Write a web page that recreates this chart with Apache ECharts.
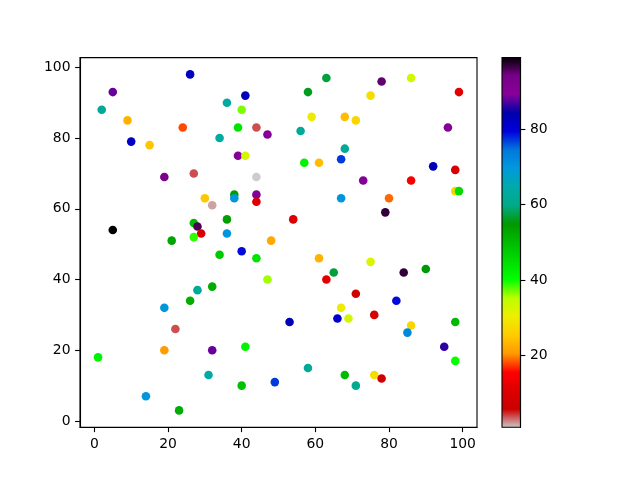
<!DOCTYPE html>
<html>
<head>
<meta charset="utf-8">
<script src="https://cdn.jsdelivr.net/npm/echarts@6/dist/echarts.min.js"></script>
<style>html,body{margin:0;padding:0;background:#fff}#c{width:640px;height:480px}</style>
</head>
<body>
<div id="c"></div>
<script>
const xs = [26,5,2,9,24,10,15,19,27,34,63,58,41,36,40,59,68,39,44,47,56,39,41,44,68,57,61,67,78,86,99,75,71,96,92,98,73,86,30,32,5,27,28,29,27,21,34,32,28,26,38,38,44,44,36,54,36,67,48,40,44,61,65,63,47,98,99,80,79,75,84,90,71,82,19,22,19,32,1,31,14,23,67,53,66,69,41,58,40,49,68,76,86,85,98,95,98,76,78,71];
const ys = [98,93,88,85,83,79,78,69,70,80,97,93,92,90,88,86,86,83,83,81,82,75,75,69,77,73,73,74,96,97,93,92,85,83,72,71,68,68,63,61,54,56,55,53,52,51,47,38,37,34,64,63,64,62,57,57,53,63,51,48,46,46,42,40,40,65,65,63,59,45,42,43,36,34,32,26,20,20,18,13,7,3,32,28,29,29,21,15,10,11,13,30,27,25,28,21,17,13,12,10];
const cs = [82,88,62,23,18,82,25,93,4,63,57,56,83,63,37,30,24,44,4,90,62,90,33,1,62,42,24,77,95,33,12,28,27,90,83,10,90,14,25,2,99,50,96,10,39,53,48,52,62,52,54,70,90,11,54,10,70,70,22,79,44,23,57,12,36,27,45,19,97,32,97,55,8,79,70,4,21,88,42,64,70,52,30,83,81,33,42,62,49,77,50,9,27,72,50,86,40,28,7,61];
const xTicks = [0,20,40,60,80,100];
const yTicks = [0,20,40,60,80,100];
const cTicks = [20,40,60,80];
// nipy_spectral colormap stops (t = 0 .. 1 step 0.05)
const nipy = ['#000000','#770088','#880099','#0000aa','#0000dd','#0077dd','#0099dd','#00aaaa','#00aa88','#009900','#00bb00','#00dd00','#00ff00','#bbff00','#eeee00','#ffcc00','#ff9900','#ff0000','#dd0000','#cc0000','#cccccc'];
const cmapR = nipy.slice().reverse(); // nipy_spectral_r: low -> high

const pts = xs.map((x,i)=>[x, ys[i], cs[i]]);
function pad(arr){const mn=Math.min(...arr),mx=Math.max(...arr),r=mx-mn;return [mn-0.05*r,mx+0.05*r];}
const [xmin,xmax]=pad(xs),[ymin,ymax]=pad(ys);
const cmin=Math.min(...cs), cmax=Math.max(...cs);

const font = 'DejaVu Sans';
const lab = {color:'#000', fontSize:13.9, fontFamily:font};
const tick = {show:true, inside:false, length:4.9, lineStyle:{color:'#000', width:1.1}};

const chart = echarts.init(document.getElementById('c'), null, {renderer:'canvas'});
chart.setOption({
  animation:false,
  backgroundColor:'#fff',
  grid:[
    {left:80, top:57.6, width:397, height:369.6, show:true, borderColor:'#000', borderWidth:1.1, backgroundColor:'transparent'},
    {left:502, top:57.6, width:18.5, height:369.6, show:true, borderColor:'#000', borderWidth:1.1,
     backgroundColor: new echarts.graphic.LinearGradient(0,1,0,0, cmapR.map((c,i)=>({offset:i/(cmapR.length-1), color:c})))}
  ],
  xAxis:[
    {gridIndex:0, type:'value', min:xmin, max:xmax, splitLine:{show:false},
     axisLine:{show:true, onZero:false, lineStyle:{color:'#000', width:1.1}},
     axisTick:Object.assign({customValues:xTicks}, tick),
     axisLabel:Object.assign({customValues:xTicks, margin:10}, lab)},
    {gridIndex:1, type:'value', min:0, max:1, show:false}
  ],
  yAxis:[
    {gridIndex:0, type:'value', min:ymin, max:ymax, splitLine:{show:false},
     axisLine:{show:true, onZero:false, lineStyle:{color:'#000', width:1.1}},
     axisTick:Object.assign({customValues:yTicks}, tick),
     axisLabel:Object.assign({customValues:yTicks, margin:9.5}, lab)},
    {gridIndex:1, type:'value', position:'right', min:cmin, max:cmax, splitLine:{show:false},
     axisLine:{show:true, onZero:false, lineStyle:{color:'#000', width:1.1}},
     axisTick:Object.assign({customValues:cTicks}, tick),
     axisLabel:Object.assign({customValues:cTicks, margin:9.5}, lab)}
  ],
  visualMap:{type:'continuous', show:false, dimension:2, seriesIndex:0, min:cmin, max:cmax, inRange:{color:cmapR}},
  series:[
    {type:'scatter', xAxisIndex:0, yAxisIndex:0, data:pts, symbolSize:8.6, itemStyle:{opacity:1}}
  ]
});
</script>
</body>
</html>
